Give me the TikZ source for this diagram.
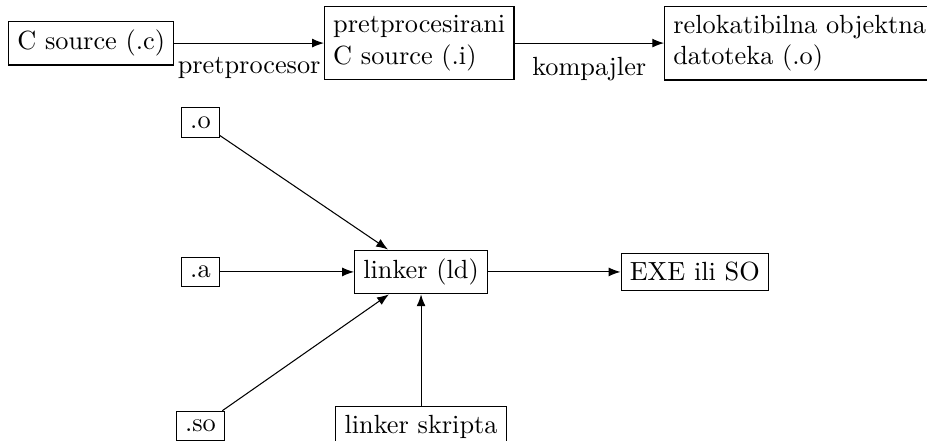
\documentclass[tikz,border=0pt]{standalone}
\usetikzlibrary{positioning, arrows.meta}
\begin{document}
\begin{tikzpicture}[
    >={Latex[length=4.5pt, width=3.4pt]},
    node distance=2cm,
    box/.style={rectangle, draw, align=left},
    lbl/.style={below=2pt}
]
\useasboundingbox (-5.63,-2.26) rectangle (6.765,3.636);

% Compile chain
\node[box] (csrc) at (-4.41,3.06) {C source (.c)};
\node[box, right=of csrc] (prep) {pretprocesirani\\C source (.i)};
\node[box, right=of prep] (obj) {relokatibilna objektna\\datoteka (.o)};

\draw[->] (csrc) -- node[lbl] {pretprocesor} (prep);
\draw[->] (prep) -- node[lbl] {kompajler} (obj);

% Linker and its inputs
\node[box] (ld) at (0,0) {linker (ld)};
\node[box] (o) at (-2.95,2) {.o};
\node[box] (a) at (-2.95,0) {.a};
\node[box] (so) at (-2.95,-2.06) {.so};
\node[box] (script) at (0,-2.07) {linker skripta};

% Output
\node[box] (exe) at (3.66,0) {EXE ili SO};

% Arrows
\draw[->] (o) -- (ld);
\draw[->] (a) -- (ld);
\draw[->] (so) -- (ld);
\draw[->] (script) -- (ld);
\draw[->] (ld) -- (exe);

\end{tikzpicture}
\end{document}
